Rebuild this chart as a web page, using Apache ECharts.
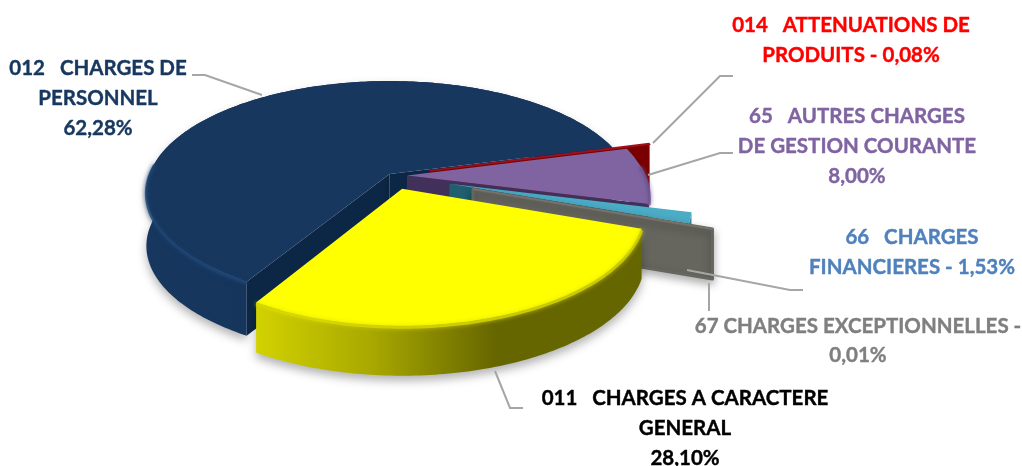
<!DOCTYPE html>
<html>
<head>
<meta charset="utf-8">
<title>Charges</title>
<script src="https://cdn.jsdelivr.net/npm/echarts@6/dist/echarts.min.js"></script>
<style>
  html, body { margin: 0; padding: 0; background: #fff; }
  #chart { width: 1022px; height: 466px; }
</style>
</head>
<body>
<div id="chart"></div>
<script>
// data, in pie order (clockwise)
const categories = ["011", "012", "014", "65", "66", "67"];
const values = [28.10, 62.28, 0.08, 8.00, 1.53, 0.01];
const explosion = [30, 4, 39, 15, 60, 86];
const labelLines = [
  ["011   CHARGES A CARACTERE", "GENERAL", "28,10%"],
  ["012   CHARGES DE", "PERSONNEL", "62,28%"],
  ["014   ATTENUATIONS DE", "PRODUITS - 0,08%"],
  ["65   AUTRES CHARGES", "DE GESTION COURANTE", "8,00%"],
  ["66   CHARGES", "FINANCIERES - 1,53%"],
  ["67 CHARGES EXCEPTIONNELLES -", "0,01%"]
];

// back to front
const drawOrder = [1, 2, 3, 4, 5, 0];

// look of the slices
const topColors = ["#ffff00", "#17375e", "#a00f1e", "#8064a2", "#4bacc6", "#74746c"];
const faceColors = ["#666600", "#0c2745", "#7a0000", "#41305a", "#1f5f6e", "#66665f"];
const wallStops = [
  [[0, "#d2d200"], [0.3, "#a8a800"], [0.62, "#666600"], [1, "#666600"]],
  [[0, "#17375e"], [0.4, "#15335a"], [1, "#112c4e"]],
  [[0, "#7a0000"], [1, "#7a0000"]],
  [[0, "#41305a"], [1, "#41305a"]],
  [[0, "#37879c"], [1, "#37879c"]],
  [[0, "#66665f"], [1, "#66665f"]]
];
const bevelColors = ["#d8d800", "#1d4470", "#7a0000", "#6f5590", "#4bacc6", "#66665f"];
const textColors = ["#000000", "#17375e", "#ff0000", "#8064a2", "#4f81bd", "#7f7f7f"];

// tilted disc, seen in perspective
const center = [392, 175.5];
const radius = [238, 240, 238, 238, 238, 238];
const squash = [110.8, 108, 110.8, 110.8, 110.8, 110.8];
const persp = [0.191, 0.162, 0.191, 0.191, 0.191, 0.191];
const depth = [50, 54, 50, 50, 50, 50];
const firstAngle = 19.7;
const yScale = 0.47;

const total = values.reduce((a, b) => a + b, 0);
const slices = [];
let acc = firstAngle;
values.forEach((v, i) => {
  const start = acc;
  const end = acc + (v / total) * 360;
  const mid = (start + end) / 2 * Math.PI / 180;
  slices.push({
    index: i,
    start: start * Math.PI / 180,
    end: end * Math.PI / 180,
    apex: [
      center[0] + explosion[i] * Math.cos(mid),
      center[1] + explosion[i] * Math.sin(mid) * yScale
    ]
  });
  acc = end;
});

function rim(s, a) {
  const i = s.index;
  const d = 1 - persp[i] * Math.sin(a);
  return [s.apex[0] + radius[i] * Math.cos(a) / d, s.apex[1] + squash[i] * Math.sin(a) / d];
}

function arcAngles(s) {
  const n = Math.max(2, Math.ceil((s.end - s.start) * 60));
  const out = [];
  for (let k = 0; k <= n; k++) {
    out.push(s.start + (s.end - s.start) * k / n);
  }
  return out;
}

function renderSlice(params, api) {
  const i = api.value(1);
  const s = slices[i];
  const angles = arcAngles(s);
  const arc = angles.map(a => rim(s, a));
  const first = arc[0];
  const last = arc[arc.length - 1];
  const down = p => [p[0], p[1] + depth[i]];
  const children = [];
  const hasShadow = i === 0 || i === 1 || i === 5;

  // outer wall
  children.push({
    type: "polygon",
    shape: { points: arc.concat(arc.map(down).reverse()) },
    style: {
      fill: new echarts.graphic.LinearGradient(0, 0, 1, 0,
        wallStops[i].map(st => ({ offset: st[0], color: st[1] }))),
      shadowColor: hasShadow ? "rgba(0,0,0,0.3)" : "transparent",
      shadowBlur: hasShadow ? 10 : 0,
      shadowOffsetY: hasShadow ? 5 : 0
    }
  });

  // cut faces that look towards the viewer
  if (first[0] < s.apex[0]) {
    children.push({
      type: "polygon",
      shape: { points: [s.apex, first, down(first), down(s.apex)] },
      style: { fill: faceColors[i] }
    });
  }
  if (last[0] > s.apex[0]) {
    children.push({
      type: "polygon",
      shape: { points: [s.apex, last, down(last), down(s.apex)] },
      style: {
        fill: faceColors[i],
        stroke: faceColors[i],
        lineWidth: i === 5 ? 3 : 0,
        lineJoin: "round",
        shadowColor: hasShadow ? "rgba(0,0,0,0.3)" : "transparent",
        shadowBlur: hasShadow ? 8 : 0,
        shadowOffsetY: hasShadow ? 4 : 0
      }
    });
  }

  // top
  const thin = values[i] < 1;
  children.push({
    type: "polygon",
    shape: { points: [s.apex].concat(arc) },
    style: {
      fill: topColors[i],
      stroke: thin ? topColors[i] : null,
      lineWidth: thin ? 1.5 : 0
    }
  });

  // soft rim, front part only
  if (values[i] > 5) {
    const front = arc.filter((p, k) => Math.sin(angles[k]) > -0.1);
    children.push({
      type: "polyline",
      shape: { points: front.map(p => [p[0], p[1] + 1.5]) },
      style: {
        fill: null,
        stroke: bevelColors[i],
        lineWidth: 3,
        opacity: 0.8,
        shadowColor: bevelColors[i],
        shadowBlur: 4
      }
    });
  }

  return { type: "group", children: children };
}

// label anchors and leader lines
const labelCenters = [
  [685, 398], [98, 68], [851, 25], [857, 116], [912, 237], [858, 326]
];
const lineHeights = [30, 30, 30, 30, 30, 29];
const leaders = [
  [[495, 371], [510, 408], [523, 408]],
  [[192, 75], [205, 75], [262, 95]],
  [[733, 76], [720, 76], [653, 143]],
  [[733, 153], [720, 153], [648, 175]],
  [[687, 270], [790, 290], [803, 290]],
  [[709, 283], [709, 311]]
];

const graphics = [];
leaders.forEach(pts => {
  graphics.push({
    type: "polyline",
    shape: { points: pts },
    style: { fill: null, stroke: "#a6a6a6", lineWidth: 2 },
    z: 5
  });
});
labelLines.forEach((lines, i) => {
  lines.forEach((line, k) => {
    graphics.push({
      type: "text",
      x: labelCenters[i][0],
      y: labelCenters[i][1] + k * lineHeights[i],
      style: {
        text: line,
        fill: textColors[i],
        stroke: textColors[i],
        lineWidth: 0.4,
        font: "bold 20.5px Lato",
        align: "center",
        verticalAlign: "middle"
      },
      z: 6
    });
  });
});

const chart = echarts.init(document.getElementById("chart"), null, { renderer: "canvas" });
chart.setOption({
  animation: false,
  backgroundColor: "#ffffff",
  graphic: graphics,
  series: [
    {
      type: "custom",
      coordinateSystem: "none",
      name: "Charges",
      renderItem: renderSlice,
      data: drawOrder.map(i => ({ name: categories[i], value: [values[i], i] }))
    }
  ]
});
</script>
</body>
</html>
